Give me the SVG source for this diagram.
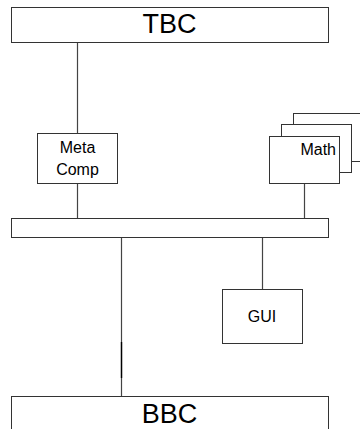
<svg xmlns="http://www.w3.org/2000/svg" width="360" height="429" viewBox="0 0 360 429">
<style>
.box{fill:#fff;stroke:#333;stroke-width:1}
.ln{fill:none;stroke:#444;stroke-width:1.2}
.t{font-family:"Liberation Sans",Arial,sans-serif;fill:#000}
.big{font-size:27px;text-anchor:middle}
.sm{font-size:16px;text-anchor:middle}
</style>
<rect width="360" height="429" fill="#fff"/>
<g id="connectors">
<line class="ln" x1="77.5" y1="42" x2="77.5" y2="133"/>
<line class="ln" x1="77.5" y1="183" x2="77.5" y2="219"/>
<line class="ln" x1="304.5" y1="183" x2="304.5" y2="219"/>
<line class="ln" x1="121.5" y1="237" x2="121.5" y2="396"/>
<line x1="121.5" y1="342" x2="121.5" y2="378" stroke="#000" stroke-width="1.4"/>
<line class="ln" x1="262.5" y1="237" x2="262.5" y2="289"/>
</g>
<g id="tbc">
<rect class="box" x="11.5" y="7.5" width="317" height="35"/>
<text class="t big" x="169.5" y="33">TBC</text>
</g>
<g id="metacomp">
<rect class="box" x="37.5" y="133.5" width="80" height="50"/>
<text class="t sm" x="77.5" y="153">Meta</text>
<text class="t sm" x="77.5" y="175">Comp</text>
</g>
<g id="math">
<rect class="box" x="293.5" y="113.5" width="70" height="48"/>
<rect class="box" x="281.5" y="124.5" width="70" height="48"/>
<rect class="box" x="269.5" y="136.5" width="70" height="47"/>
<text class="t" x="336" y="155" font-size="16" text-anchor="end">Math</text>
</g>
<g id="bus">
<rect class="box" x="11.5" y="218.5" width="317" height="19"/>
</g>
<g id="gui">
<rect class="box" x="222.5" y="289.5" width="80" height="54"/>
<text class="t sm" x="262" y="322">GUI</text>
</g>
<g id="bbc">
<rect class="box" x="11.5" y="396.5" width="317" height="40"/>
<text class="t big" x="169.5" y="423">BBC</text>
</g>
</svg>
